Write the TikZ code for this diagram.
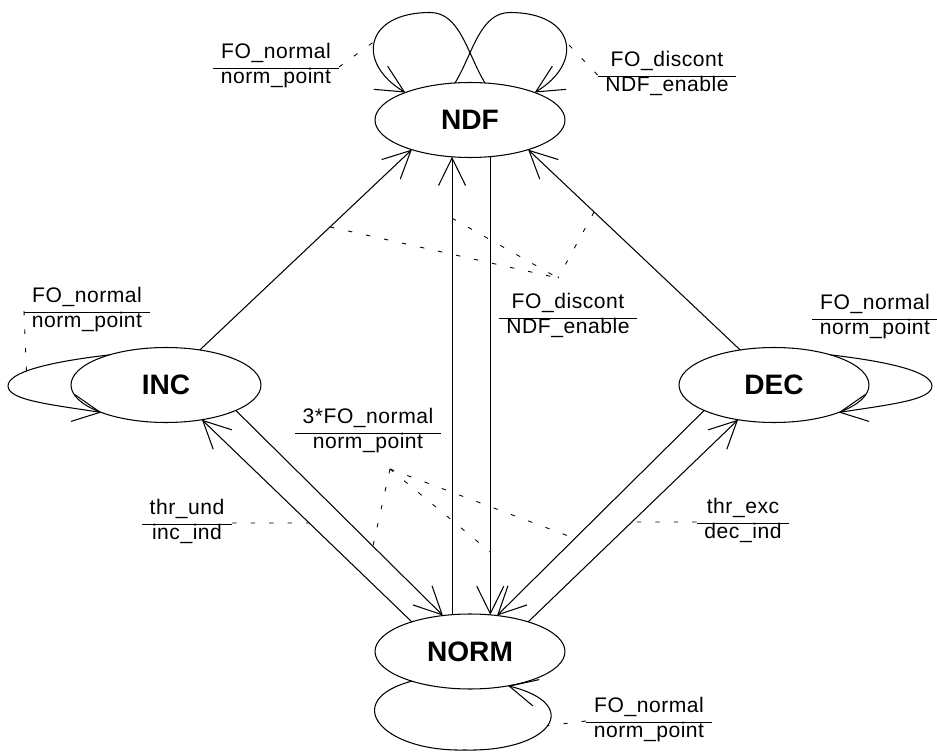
\documentclass[tikz,border=0pt]{standalone}
\usepackage{fontspec}
\setmainfont{Liberation Sans}
\newfontfamily\condfont[LetterSpace=2.5]{Liberation Sans}
\usetikzlibrary{shapes.geometric, arrows.meta, calc}

\setlength{\tabcolsep}{4.5pt}
\newcommand{\cond}[2]{%
  \renewcommand{\arraystretch}{0.86}%
  \begin{tabular}{c}#1\\[1.3pt]\hline #2\end{tabular}}

\begin{document}
\begin{tikzpicture}[
    x=0.02cm, y=-0.02cm,
    >={Straight Barb[length=5.5mm, width=5.4mm]},
    % --- node styles ---
    state/.style={
        ellipse, draw, line width=0.6pt, minimum width=3.8cm, minimum height=1.5cm,
        inner sep=0pt, outer sep=0pt, font=\fontsize{16}{19}\selectfont\bfseries
    },
    condition/.style={
        inner sep=0pt, outer sep=0pt, font=\condfont\fontsize{12}{14.4}\selectfont
    },
    arrow/.style={->, line width=0.6pt},
    leader/.style={line width=0.5pt, dash pattern=on 2.5pt off 8pt},
]
\useasboundingbox (0,0) rectangle (937,753);

% ===== STATES =====
\node[state] (ndf) at (470,120) {NDF};
\node[state] (inc) at (166,385) {INC};
\node[state] (dec) at (774,385) {DEC};
\node[state] (norm) at (470,651.5) {NORM};

% ===== TRANSITIONS INTO NDF =====
\draw[arrow] (inc.46) -- (ndf.207) coordinate[pos=0.614] (incndf);
\draw[arrow] (dec.134) -- (ndf.333) coordinate[pos=0.689] (decndf);
\draw[arrow] (norm.116) -- (ndf.244) coordinate[pos=0.866] (normndf);

% ===== TRANSITIONS INTO NORM / OUT OF NORM =====
\draw[arrow] (ndf.299) -- (norm.61) coordinate[pos=0.863] (ndfnorm);
\draw[arrow] (norm.153) -- (inc.316) coordinate[pos=0.489] (norminc);
\draw[arrow] (inc.340) -- (norm.127) coordinate[pos=0.662] (incnorm);
\draw[arrow] (norm.27) -- (dec.224) coordinate[pos=0.494] (normdec);
\draw[arrow] (dec.200) -- (norm.53) coordinate[pos=0.624] (decnorm);

% ===== SELF LOOPS =====
\draw[arrow] (ndf.68) .. controls +(-18,-30) and +(30,0) .. ($(ndf.north)+(-40,-70)$)
    .. controls +(-65,0) and +(-50,-30) .. (ndf.157) coordinate[pos=0.5] (ndfloopl);
\draw[arrow] (ndf.112) .. controls +(18,-30) and +(-30,0) .. ($(ndf.north)+(40,-70)$)
    .. controls +(65,0) and +(50,-30) .. (ndf.23) coordinate[pos=0.5] (ndfloopr);

\draw[arrow] (inc.152) .. controls +(-60,7) and +(0,-14) .. ($(inc.west)+(-63,1)$) coordinate[pos=0.6] (incloop)
    .. controls +(0,14) and +(-52,-8) .. (inc.203);
\draw[arrow] (dec.28) .. controls +(60,7) and +(0,-14) .. ($(dec.east)+(63,1)$)
    .. controls +(0,14) and +(52,-8) .. (dec.337);

\draw[arrow] (norm.207) .. controls +(-72,19) and +(-85,2) .. ($(norm.south)+(-5,61)$)
    .. controls +(85,2) and +(77,19) .. (norm.318) coordinate[pos=0.5] (normloop);

% ===== CONDITIONS =====
\node[condition] (condndfl) at (276,67) {\cond{FO\_normal}{norm\_point}};
\node[condition] (condndfr) at (667,75) {\cond{FO\_discont}{NDF\_enable}};
\node[condition] (condinc) at (87,311) {\cond{FO\_normal}{norm\_point}};
\node[condition] (conddec) at (875,318) {\cond{FO\_normal}{norm\_point}};
\node[condition] (conddiscont) at (568,317) {\cond{FO\_discont}{NDF\_enable}};
\node[condition] (condtonorm) at (368,432) {\cond{3*FO\_normal}{norm\_point}};
\node[condition] (condund) at (187,523) {\cond{thr\_und}{inc\_ind}};
\node[condition] (condexc) at (743,522) {\cond{thr\_exc}{dec\_ind}};
\node[condition] (condnorm) at (649,721) {\cond{FO\_normal}{norm\_point}};

% ===== LEADERS =====
\draw[leader] (condndfl.east) -- (ndfloopl);
\draw[leader] (condndfr.west) -- (ndfloopr);
\draw[leader] (condinc.west) -- (incloop);
\draw[leader] (condnorm.west) -- (normloop);
\draw[leader] (condund.east) -- (norminc);
\draw[leader] (condexc.west) -- (normdec);

\coordinate (hubndf) at (558,278);
\draw[leader] (incndf) -- (hubndf);
\draw[leader] (normndf) -- (hubndf);
\draw[leader] (decndf) -- (hubndf);

\coordinate (hubnorm) at (390,469);
\draw[leader] (hubnorm) -- (incnorm);
\draw[leader] (hubnorm) -- (ndfnorm);
\draw[leader] (hubnorm) -- (decnorm);

\end{tikzpicture}
\end{document}
